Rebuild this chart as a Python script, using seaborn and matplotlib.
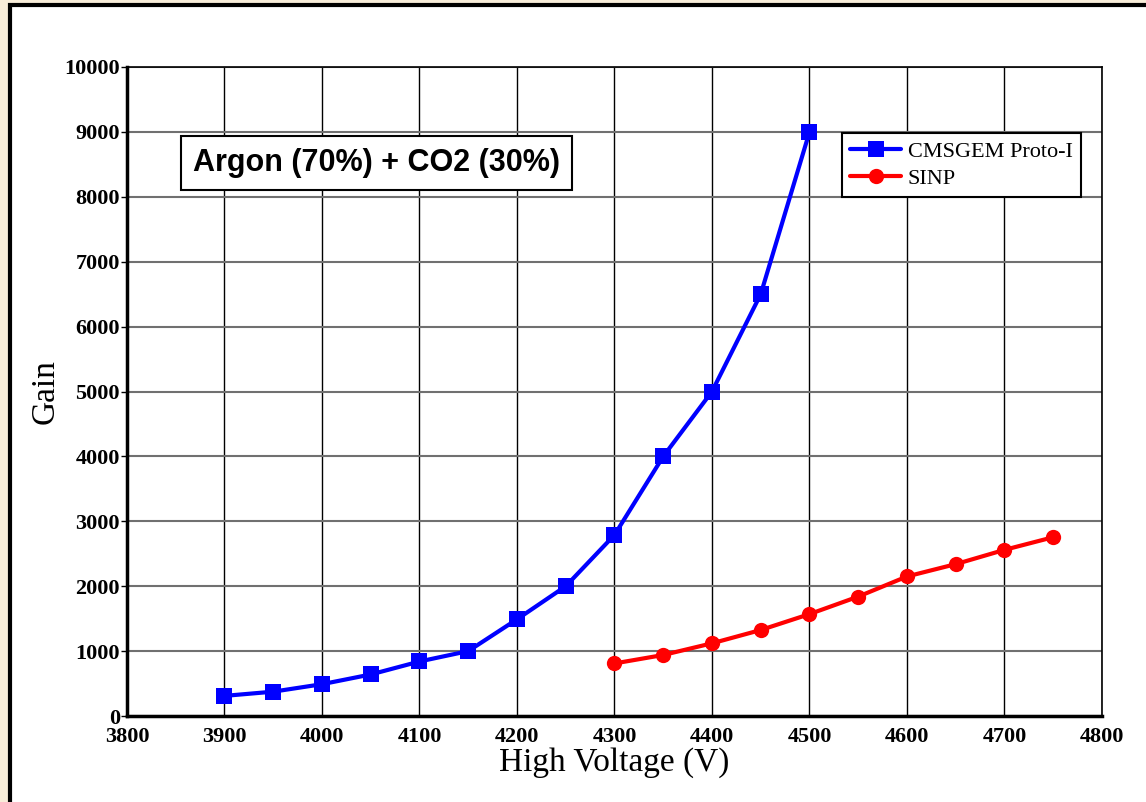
import matplotlib
matplotlib.use("Agg")
import matplotlib.pyplot as plt
from matplotlib.patches import Rectangle
import seaborn as sns
import pandas as pd

# Gain vs. high voltage for two GEM detectors
cms_voltage = [3900, 3950, 4000, 4050, 4100, 4150, 4200, 4250, 4300, 4350, 4400, 4450, 4500]
cms_gain = [310, 375, 490, 640, 840, 1000, 1490, 2000, 2790, 4000, 5000, 6500, 9000]
sinp_voltage = [4300, 4350, 4400, 4450, 4500, 4550, 4600, 4650, 4700, 4750]
sinp_gain = [810, 940, 1120, 1325, 1570, 1840, 2150, 2340, 2560, 2755]
series_names = ["CMSGEM Proto-I", "SINP"]
x_ticks = list(range(3800, 4801, 100))
y_ticks = list(range(0, 10001, 1000))

df = pd.concat([
    pd.DataFrame({"voltage": cms_voltage, "gain": cms_gain, "detector": series_names[0]}),
    pd.DataFrame({"voltage": sinp_voltage, "gain": sinp_gain, "detector": series_names[1]}),
], ignore_index=True)

sns.set_theme(style="white")
plt.rcParams["font.family"] = ["Liberation Serif", "DejaVu Serif"]
plt.rcParams["text.color"] = "black"
plt.rcParams["axes.labelcolor"] = "black"
plt.rcParams["xtick.color"] = "black"
plt.rcParams["ytick.color"] = "black"

fig = plt.figure(figsize=(11.46, 8.02), dpi=100)
fig.patch.set_facecolor("#f8edd9")
# white panel with dark frame, drawn beneath the axes
fig.patches.append(Rectangle((10 / 1146, -0.05), 1.1, 1 - 5 / 802 + 0.05,
                             transform=fig.transFigure, facecolor="white",
                             edgecolor="black", linewidth=3, zorder=-10))

ax = fig.add_axes([127 / 1146, 1 - 716 / 802, 975 / 1146, 649 / 802])
ax.set_zorder(1)
ax.set_facecolor("white")

sns.lineplot(data=df, x="voltage", y="gain", hue="detector", style="detector",
             hue_order=series_names, style_order=series_names,
             palette={"CMSGEM Proto-I": "#0000ff", "SINP": "#ff0000"},
             markers={"CMSGEM Proto-I": "s", "SINP": "o"}, dashes=False,
             linewidth=3, markersize=11, markeredgewidth=0, ax=ax, zorder=3)

ax.set_xlim(3800, 4800)
ax.set_ylim(0, 10000)
ax.set_xticks(x_ticks)
ax.set_yticks(y_ticks)
ax.set_xticklabels([str(v) for v in x_ticks], fontsize=16, fontweight="bold")
ax.set_yticklabels([str(v) for v in y_ticks], fontsize=16, fontweight="bold")
ax.tick_params(axis="x", length=0, pad=8, colors="black")
ax.tick_params(axis="y", length=4, width=1, direction="out", left=True, pad=1, colors="black")

ax.xaxis.grid(True, color="black", linewidth=1)
ax.yaxis.grid(True, color="#707070", linewidth=1.5)
ax.set_axisbelow(True)

for side in ["left", "bottom"]:
    ax.spines[side].set_color("black")
    ax.spines[side].set_linewidth(2.5)
for side in ["top", "right"]:
    ax.spines[side].set_color("black")
    ax.spines[side].set_linewidth(1.2)

ax.set_xlabel("High Voltage (V)", fontsize=24, labelpad=0, color="black")
ax.set_ylabel("Gain", fontsize=24, labelpad=3, color="black")

leg = ax.legend(loc="upper right", bbox_to_anchor=(0.978, 0.898), borderaxespad=0,
                fontsize=16, frameon=True, fancybox=False, edgecolor="black", framealpha=1,
                handlelength=2.3, borderpad=0.35, labelspacing=0.3, handletextpad=0.3)
leg.get_frame().set_linewidth(1.5)
for t in leg.get_texts():
    t.set_color("black")

ax.text(4056, 8520, "Argon (70%) + CO2 (30%)", ha="center", va="center",
        fontsize=22, fontweight="bold", family=["Liberation Sans", "DejaVu Sans"],
        color="black",
        bbox=dict(boxstyle="square,pad=0.4", facecolor="white", edgecolor="black", linewidth=1.5),
        zorder=5)

fig.savefig("out.png", dpi=100, facecolor=fig.get_facecolor())
